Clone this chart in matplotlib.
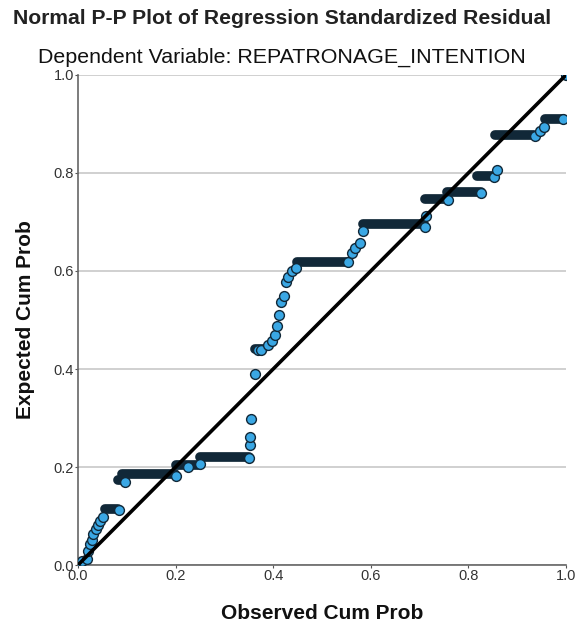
import matplotlib.pyplot as plt
import numpy as np

plt.rcParams['font.family'] = ['Liberation Sans', 'DejaVu Sans']

# single visible points (observed, expected cumulative prob)
obs = [0.004, 0.008, 0.018, 0.021, 0.025, 0.028, 0.031, 0.036, 0.042, 0.046, 0.052,
       0.084, 0.096, 0.200, 0.225, 0.250, 0.350, 0.353, 0.353, 0.355, 0.363,
       0.369, 0.376, 0.390, 0.397, 0.404, 0.407, 0.412, 0.417, 0.423, 0.426,
       0.431, 0.438, 0.447, 0.554, 0.561, 0.568, 0.578, 0.585, 0.711, 0.713,
       0.759, 0.826, 0.852, 0.858, 0.937, 0.947, 0.955, 0.994, 1.000]
exp = [0.002, 0.008, 0.012, 0.029, 0.042, 0.052, 0.063, 0.073, 0.082, 0.090, 0.098,
       0.112, 0.170, 0.182, 0.200, 0.207, 0.218, 0.245, 0.261, 0.297, 0.390,
       0.438, 0.438, 0.448, 0.458, 0.469, 0.488, 0.510, 0.537, 0.549, 0.578,
       0.588, 0.599, 0.606, 0.618, 0.636, 0.647, 0.657, 0.681, 0.690, 0.712,
       0.745, 0.760, 0.792, 0.806, 0.875, 0.886, 0.893, 0.910, 1.000]

# dense runs of tied expected values (level, first observed, last observed)
run_level = [0.114, 0.173, 0.185, 0.205, 0.220, 0.440, 0.619, 0.695, 0.747, 0.761, 0.794, 0.877, 0.910]
run_start = [0.055, 0.081, 0.090, 0.200, 0.250, 0.363, 0.449, 0.585, 0.711, 0.757, 0.818, 0.855, 0.958]
run_end = [0.083, 0.096, 0.198, 0.246, 0.350, 0.380, 0.553, 0.710, 0.757, 0.826, 0.850, 0.935, 0.994]

ticks = [0.0, 0.2, 0.4, 0.6, 0.8, 1.0]
tick_labels = ['0.0', '0.2', '0.4', '0.6', '0.8', '1.0']

fig = plt.figure(figsize=(5.76, 6.28), dpi=100)
ax = fig.add_axes([0.1354, 0.1003, 0.8472, 0.7803])

for lvl, x0, x1 in zip(run_level, run_start, run_end):
    ax.plot([x0, x1], [lvl, lvl], color='#112838', lw=7, solid_capstyle='round', zorder=2)

ax.scatter(obs, exp, s=50, facecolor='#3aa7e4', edgecolor='#112838', linewidth=1.0, zorder=3)

ax.plot([0, 1], [0, 1], color='black', lw=2.6, zorder=4)

ax.set_xlim(0, 1)
ax.set_ylim(0, 1)
ax.set_xticks(ticks)
ax.set_yticks(ticks)
ax.set_xticklabels(tick_labels)
ax.set_yticklabels(tick_labels)
ax.tick_params(colors='#555555', labelcolor='#333333', labelsize=10.5, length=2, pad=1)
ax.yaxis.grid(True, color='#c8c8c8', lw=1.2)
ax.set_axisbelow(True)
for s in ['top', 'right']:
    ax.spines[s].set_visible(False)
for s in ['left', 'bottom']:
    ax.spines[s].set_color('#666666')
    ax.spines[s].set_linewidth(1.2)

ax.set_xlabel('Observed Cum Prob', fontsize=15, fontweight='bold', color='#111111', labelpad=15)
ax.set_ylabel('Expected Cum Prob', fontsize=15, fontweight='bold', color='#111111', labelpad=13)

fig.text(0.49, 0.971, 'Normal P-P Plot of Regression Standardized Residual',
         ha='center', va='center', fontsize=15.2, fontweight='bold', color='#222222')
fig.text(0.49, 0.909, 'Dependent Variable: REPATRONAGE_INTENTION',
         ha='center', va='center', fontsize=15.4, color='#111111')

fig.savefig('out.png', dpi=100)
